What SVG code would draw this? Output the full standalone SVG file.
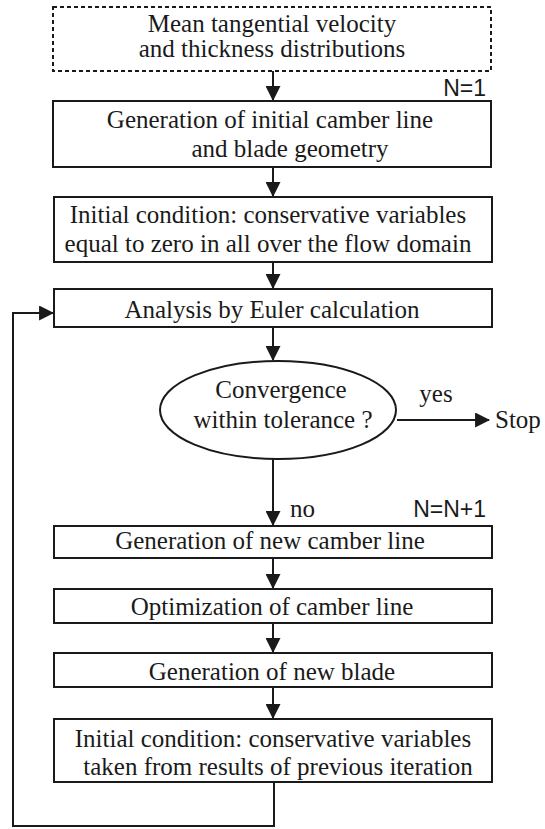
<svg xmlns="http://www.w3.org/2000/svg" width="545" height="829" viewBox="0 0 545 829">
<style>
.box{fill:#fff;stroke:#1a1a1a;stroke-width:2}
.dash{fill:#fff;stroke:#1a1a1a;stroke-width:2;stroke-dasharray:4 3}
.t{font-family:"Liberation Serif","Times New Roman",serif;font-size:25px;fill:#1a1a1a;text-anchor:middle}
.s{font-family:"Liberation Sans",Arial,sans-serif;font-size:23px;fill:#1a1a1a}
.ln{fill:none;stroke:#1a1a1a;stroke-width:2}
</style>
<defs>
<marker id="ah" viewBox="0 0 14 14" refX="13" refY="7" markerWidth="7.5" markerHeight="7.5" orient="auto" markerUnits="strokeWidth">
<path d="M0,0 L14,7 L0,14 z" fill="#1a1a1a"/>
</marker>
</defs>
<g id="connectors">
<line class="ln" x1="273" y1="71" x2="273" y2="100" marker-end="url(#ah)"/>
<line class="ln" x1="273" y1="167" x2="273" y2="196" marker-end="url(#ah)"/>
<line class="ln" x1="273" y1="262" x2="273" y2="288" marker-end="url(#ah)"/>
<line class="ln" x1="273" y1="327" x2="273" y2="360" marker-end="url(#ah)"/>
<line class="ln" x1="397" y1="420" x2="489" y2="420" marker-end="url(#ah)"/>
<line class="ln" x1="273" y1="459" x2="273" y2="525" marker-end="url(#ah)"/>
<line class="ln" x1="273" y1="558" x2="273" y2="588" marker-end="url(#ah)"/>
<line class="ln" x1="273" y1="623" x2="273" y2="652" marker-end="url(#ah)"/>
<line class="ln" x1="273" y1="687" x2="273" y2="718" marker-end="url(#ah)"/>
<polyline class="ln" points="274,782 274,826 13,826 13,313 53,313" marker-end="url(#ah)"/>
<text class="s" x="486" y="96" text-anchor="end">N=1</text>
<text class="t" x="436" y="402">yes</text>
<text class="t" x="495" y="428" style="text-anchor:start">Stop</text>
<text class="t" x="290" y="517" style="text-anchor:start">no</text>
<text class="s" x="486" y="517" text-anchor="end">N=N+1</text>
</g>
<g id="n1"><rect class="dash" x="53" y="7" width="438" height="64"/>
<text class="t" x="272" y="32">Mean tangential velocity</text>
<text class="t" x="272" y="57">and thickness distributions</text></g>
<g id="n2"><rect class="box" x="53" y="101" width="438" height="66"/>
<text class="t" x="270" y="128">Generation of initial camber line</text>
<text class="t" x="290" y="157">and blade geometry</text></g>
<g id="n3"><rect class="box" x="54" y="197" width="438" height="65"/>
<text class="t" x="268" y="223">Initial condition: conservative variables</text>
<text class="t" x="268" y="252">equal to zero in all over the flow domain</text></g>
<g id="n4"><rect class="box" x="54" y="289" width="438" height="38"/>
<text class="t" x="272" y="318">Analysis by Euler calculation</text></g>
<g id="n5"><ellipse cx="278" cy="410" rx="118" ry="49" fill="#fff" stroke="#1a1a1a" stroke-width="2"/>
<text class="t" x="281" y="398">Convergence</text>
<text class="t" x="283" y="428">within tolerance ?</text></g>
<g id="n6"><rect class="box" x="54" y="526" width="438" height="32"/>
<text class="t" x="270" y="549">Generation of new camber line</text></g>
<g id="n7"><rect class="box" x="54" y="589" width="438" height="34"/>
<text class="t" x="272" y="615">Optimization of camber line</text></g>
<g id="n8"><rect class="box" x="54" y="653" width="438" height="34"/>
<text class="t" x="272" y="680">Generation of new blade</text></g>
<g id="n9"><rect class="box" x="54" y="719" width="438" height="63"/>
<text class="t" x="273" y="747">Initial condition: conservative variables</text>
<text class="t" x="278" y="775">taken from results of previous iteration</text></g>
</svg>
